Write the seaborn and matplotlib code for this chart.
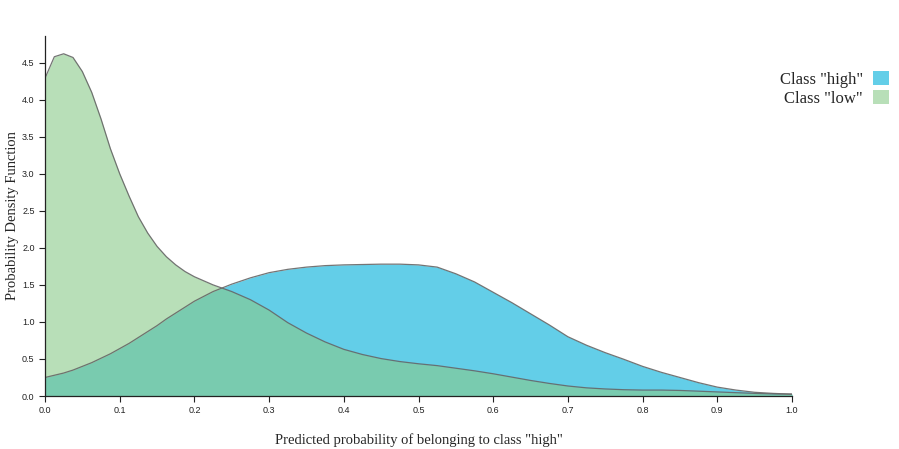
import numpy as np
import pandas as pd
import seaborn as sns
import matplotlib
matplotlib.use("Agg")
import matplotlib.pyplot as plt
from matplotlib.patches import Patch

x_vals = [0.0, 0.0125, 0.025, 0.0375, 0.05, 0.0625, 0.075, 0.0875, 0.1, 0.1125,
          0.125, 0.1375, 0.15, 0.1625, 0.175, 0.1875, 0.2,
          0.225, 0.25, 0.275, 0.3, 0.325, 0.35, 0.375, 0.4, 0.425, 0.45, 0.475,
          0.5, 0.525, 0.55, 0.575, 0.6, 0.625, 0.65, 0.675, 0.7, 0.725,
          0.75, 0.775, 0.8, 0.825, 0.85, 0.875, 0.9, 0.925, 0.95, 0.975, 1.0]

high_pdf = [0.25, 0.28, 0.31, 0.35, 0.40, 0.45, 0.51, 0.57, 0.64, 0.71,
            0.79, 0.87, 0.95, 1.04, 1.12, 1.20, 1.28,
            1.41, 1.51, 1.595, 1.665, 1.71, 1.74, 1.76, 1.77, 1.775, 1.78, 1.78,
            1.77, 1.74, 1.65, 1.54, 1.40, 1.26, 1.11, 0.96, 0.80, 0.685,
            0.585, 0.495, 0.40, 0.32, 0.25, 0.18, 0.12, 0.08, 0.05, 0.035, 0.025]

low_pdf = [4.29, 4.58, 4.62, 4.57, 4.38, 4.10, 3.74, 3.34, 3.00, 2.70,
           2.42, 2.20, 2.02, 1.88, 1.77, 1.68, 1.61,
           1.50, 1.41, 1.30, 1.16, 0.99, 0.85, 0.73, 0.63, 0.56, 0.505, 0.465,
           0.435, 0.41, 0.375, 0.34, 0.30, 0.255, 0.21, 0.17, 0.135, 0.11,
           0.095, 0.085, 0.08, 0.08, 0.075, 0.065, 0.055, 0.045, 0.035, 0.028, 0.025]

labels = ['Class "high"', 'Class "low"']
fill_colors = ["#63cee8", "#89ca89"]
fill_alphas = [1.0, 0.6]
legend_colors = ["#63cee8", "#b8dfb8"]

df = pd.DataFrame({"x": x_vals, "high": high_pdf, "low": low_pdf})

sns.set_style("white")
plt.rcParams["font.family"] = ["Liberation Sans", "DejaVu Sans"]

fig = plt.figure(figsize=(8.99, 4.49), dpi=100)
ax = fig.add_axes([45/899, 53/449, (792-45)/899, (396-36)/449])

for col, c, a in zip(["high", "low"], fill_colors, fill_alphas):
    ax.fill_between(df["x"], df[col], 0, color=c, alpha=a, linewidth=0)
    sns.lineplot(data=df, x="x", y=col, ax=ax, color="#666666", linewidth=0.9,
                 alpha=0.9, legend=False)

ax.set_xlim(0, 1)
ax.set_ylim(0, 4.86)
xt = np.round(np.arange(0, 1.01, 0.1), 1)
yt = np.round(np.arange(0, 4.6, 0.5), 1)
ax.set_xticks(xt)
ax.set_xticklabels([f"{v:.1f}" for v in xt])
ax.set_yticks(yt)
ax.set_yticklabels([f"{v:.1f}" for v in yt])
ax.tick_params(axis="both", which="major", labelsize=6.5, length=4, width=0.8,
               direction="out", bottom=True, left=True, colors="#222222")
for s in ["top", "right"]:
    ax.spines[s].set_visible(False)
for s in ["left", "bottom"]:
    ax.spines[s].set_color("#222222")
    ax.spines[s].set_linewidth(0.9)

ax.set_xlabel('Predicted probability of belonging to class "high"',
              family="Liberation Serif", fontsize=10.5, labelpad=13)
ax.set_ylabel("Probability Density Function", family="Liberation Serif",
              fontsize=10.5, labelpad=2.5)

handles = [Patch(facecolor=legend_colors[0], edgecolor="none"),
           Patch(facecolor=legend_colors[1], edgecolor="none")]
fig.legend(handles, labels, loc="upper right", bbox_to_anchor=(889/899, 1 - 71/449),
           frameon=False, markerfirst=False, handlelength=0.96, handleheight=0.96,
           handletextpad=0.6, labelspacing=0.1, borderpad=0, borderaxespad=0,
           prop={"family": "Liberation Serif", "size": 12})

fig.savefig("out.png", dpi=100)
